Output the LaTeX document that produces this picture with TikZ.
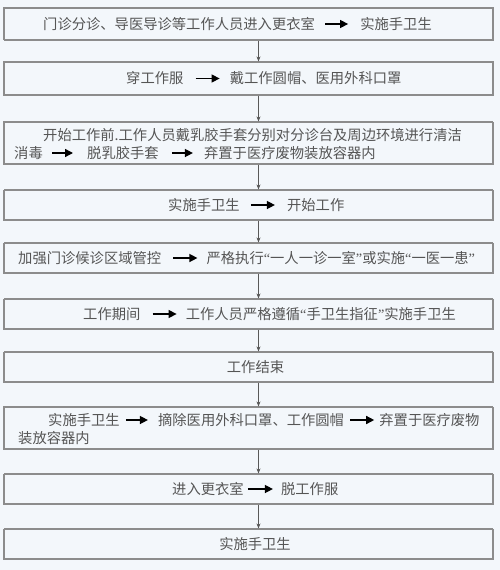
\documentclass[tikz,border=0pt]{standalone}
\usepackage{fontspec}
\newfontfamily\cjk{Noto Sans CJK SC}
\newfontfamily\quotefont{Liberation Serif}
\newcommand\oq{{\quotefont “}}
\newcommand\cq{{\quotefont ”}}
\usetikzlibrary{arrows.meta,positioning}
\definecolor{paper}{HTML}{F3F7FB}
\definecolor{ink}{HTML}{555555}
\definecolor{rim}{HTML}{8C8C8C}

\begin{document}
\begin{tikzpicture}[x=1pt,y=-1pt,
  stepbox/.style={draw=rim, line width=1.2pt, dash pattern=on 0.45pt off 0.4pt, minimum width=489pt, inner sep=0pt},
  txt/.style={font=\cjk\fontsize{14.3}{17}\selectfont, text=ink, inner sep=0pt, anchor=west},
  go/.style={-{Triangle[length=8pt,width=8pt]}, line width=1.4pt, black},
  flow/.style={-{Stealth[length=5pt,width=4pt]}, draw=black!65, line width=0.7pt}]
  \fill[paper] (0,0) rectangle (500,570);
  \useasboundingbox (0,0) rectangle (500,570);
  % frames
  \foreach \name/\y/\h in {b1/24/32pt, b2/78.5/33pt, b3/143/42pt, b4/205/30pt, b5/258/30pt,
      b6/314/30pt, b7/367/30pt, b8/428/42pt, b9/489/30pt, b10/544/30pt}
    \node[stepbox, minimum height=\h] (\name) at (248.5,\y) {};
  \foreach \a/\b in {b1/b2, b2/b3, b3/b4, b4/b5, b5/b6, b6/b7, b7/b8, b8/b9, b9/b10}
    \draw[flow] ([xshift=10pt]\a.south) -- ([xshift=10pt]\b.north);

  % step 1
  \node[txt] (t1a) at (43,24) {门诊分诊、导医导诊等工作人员进入更衣室};
  \node[txt, right=45pt of t1a] (t1b) {实施手卫生};
  % step 2
  \node[txt] (t2a) at (126,78.5) {穿工作服};
  \node[txt, right=46pt of t2a] (t2b) {戴工作圆帽、医用外科口罩};
  % step 3
  \node[txt] (t3a) at (43,135) {开始工作前.工作人员戴乳胶手套分别对分诊台及周边环境进行清洁};
  \node[txt] (t3b) at (14,153) {消毒};
  \node[txt, right=44pt of t3b] (t3c) {脱乳胶手套};
  \node[txt, right=45pt of t3c] (t3d) {弃置于医疗废物装放容器内};
  % step 4
  \node[txt] (t4a) at (168,205) {实施手卫生};
  \node[txt, right=47pt of t4a] (t4b) {开始工作};
  % step 5
  \node[txt] (t5a) at (18,258) {加强门诊候诊区域管控};
  \node[txt, right=45pt of t5a] (t5b) {严格执行\oq 一人一诊一室\cq 或实施\oq 一医一患\cq};
  % step 6
  \node[txt] (t6a) at (83,314) {工作期间};
  \node[txt, right=45pt of t6a] (t6b) {工作人员严格遵循\oq 手卫生指征\cq 实施手卫生};
  % step 7
  \node[txt, anchor=center] (t7a) at (255.5,367) {工作结束};
  % step 8
  \node[txt] (t8a) at (48,420) {实施手卫生};
  \node[txt, right=38pt of t8a] (t8b) {摘除医用外科口罩、工作圆帽};
  \node[txt, right=35pt of t8b] (t8c) {弃置于医疗废物};
  \node[txt] (t8d) at (18,438) {装放容器内};
  % step 9
  \node[txt] (t9a) at (172,489) {进入更衣室};
  \node[txt, right=37pt of t9a] (t9b) {脱工作服};
  % step 10
  \node[txt, anchor=center] (t10a) at (255,544) {实施手卫生};

  % inline arrows
  \foreach \a/\b/\s/\e in {t1a/t1b/10/12, t2a/t2b/12/10, t3b/t3c/9/14, t3c/t3d/13/11,
      t4a/t4b/11/12, t5a/t5b/12/9, t6a/t6b/12/9, t8a/t8b/6/10, t8b/t8c/6/5, t9a/t9b/4/8}
    \draw[go, shorten <=\s pt, shorten >=\e pt] (\a) -- (\b);
\end{tikzpicture}
\end{document}
